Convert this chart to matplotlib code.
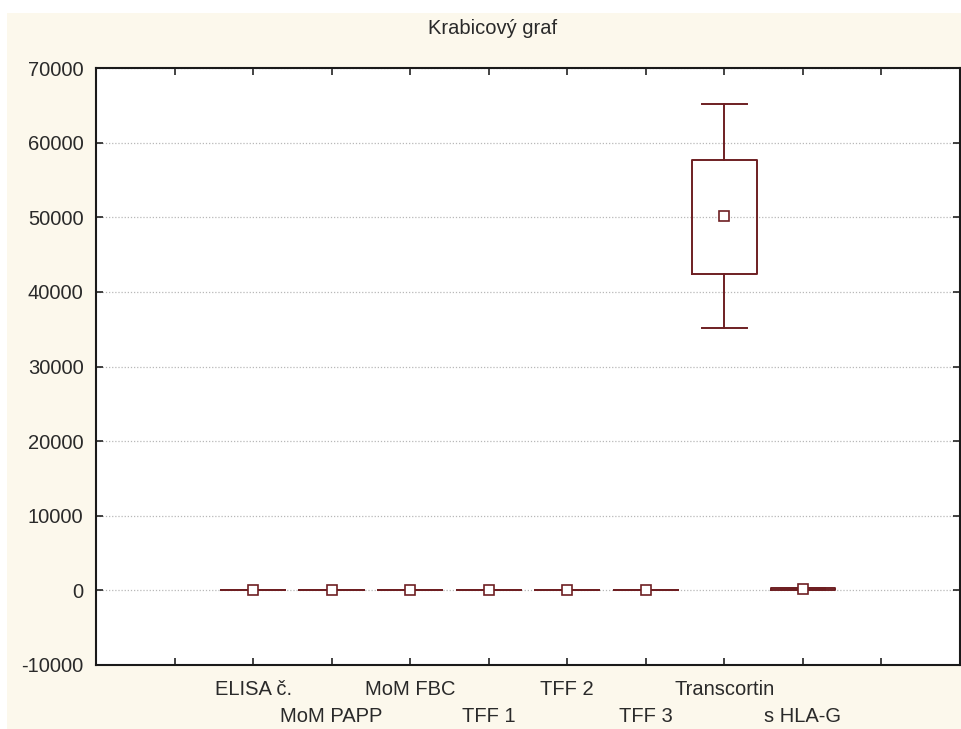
import matplotlib
matplotlib.use("Agg")
import matplotlib.pyplot as plt
from matplotlib.patches import Rectangle

# ---- data ----
categories = ["ELISA č.", "MoM PAPP", "MoM FBC", "TFF 1", "TFF 2", "TFF 3", "Transcortin", "s HLA-G"]
medians = [1.2, 1.0, 1.0, 12.0, 10.0, 15.0, 50200, 150]
q1 = [0.8, 0.7, 0.7, 6.0, 5.0, 8.0, 42400, 40]
q3 = [1.8, 1.4, 1.4, 20.0, 18.0, 25.0, 57700, 260]
wlo = [0.3, 0.3, 0.3, 2.0, 1.0, 3.0, 35100, 5]
whi = [3.0, 2.5, 2.5, 40.0, 35.0, 45.0, 65200, 380]
yticks = [-10000, 0, 10000, 20000, 30000, 40000, 50000, 60000, 70000]
title = "Krabicový graf"

W, H = 961, 729
fig = plt.figure(figsize=(W / 100, H / 100), dpi=100, facecolor="white")
bg = Rectangle((7 / W, 0), 1, 1 - 13 / H, transform=fig.transFigure,
               facecolor="#fcf8ec", edgecolor="none", zorder=-10)
fig.add_artist(bg)

ax = fig.add_axes([96 / W, 1 - 665 / H, (960 - 96) / W, (665 - 68) / H])
ax.set_zorder(1)
ax.set_facecolor("white")

box_col = "#6e1f22"
stats = []
for i in range(len(categories)):
    stats.append(dict(med=medians[i], q1=q1[i], q3=q3[i], whislo=wlo[i], whishi=whi[i],
                      mean=medians[i], fliers=[], label=categories[i]))
positions = [i + 2 for i in range(len(categories))]
ax.bxp(stats, positions=positions, widths=0.82, capwidths=0.57, showmeans=True,
       showfliers=False, patch_artist=False, manage_ticks=False,
       boxprops=dict(color=box_col, linewidth=1.4),
       whiskerprops=dict(color=box_col, linewidth=1.4),
       capprops=dict(color=box_col, linewidth=1.4),
       medianprops=dict(linewidth=0),
       meanprops=dict(marker="s", markersize=6.5, markerfacecolor="white",
                      markeredgecolor=box_col, markeredgewidth=1.2))

ax.set_xlim(0, 11)
ax.set_ylim(-10000, 70000)
ax.set_yticks(yticks)
ax.set_yticklabels([str(v) for v in yticks])

# major ticks: all tick marks, labels for first row (even-index categories)
ax.set_xticks(list(range(1, 11)))
lbls = [""] * 10
for i, c in enumerate(categories):
    if i % 2 == 0:
        lbls[positions[i] - 1] = c
ax.set_xticklabels(lbls)
# minor ticks: second row labels (odd-index categories)
ax.xaxis.remove_overlapping_locs = False
ax.set_xticks([positions[i] for i in range(len(categories)) if i % 2 == 1], minor=True)
ax.set_xticklabels([categories[i] for i in range(len(categories)) if i % 2 == 1], minor=True)

txt_col = "#2a2a2a"
ax.tick_params(axis="both", which="major", direction="in", length=5, width=1.2,
               colors="#222222", labelcolor=txt_col, labelsize=14.5, top=True, right=True)
ax.tick_params(axis="y", pad=9)
ax.tick_params(axis="x", which="major", pad=11)
ax.tick_params(axis="x", which="minor", length=0, pad=30, labelsize=14.5,
               labelcolor=txt_col, top=False)
for lab in (ax.get_xticklabels() + ax.get_xticklabels(minor=True)
            + ax.get_yticklabels()):
    lab.set_family("Liberation Sans")

ax.grid(axis="y", which="major", linestyle=(0, (1, 1.5)), color="#b8b8b8", linewidth=0.9)
ax.set_axisbelow(True)
for s in ax.spines.values():
    s.set_linewidth(1.5)
    s.set_color("#1a1a1a")

fig.text(493 / W, 1 - 28 / H, title, ha="center", va="center", fontsize=14.5,
         family="Liberation Sans", color=txt_col)

fig.savefig("out.png", dpi=100, facecolor=fig.get_facecolor())
